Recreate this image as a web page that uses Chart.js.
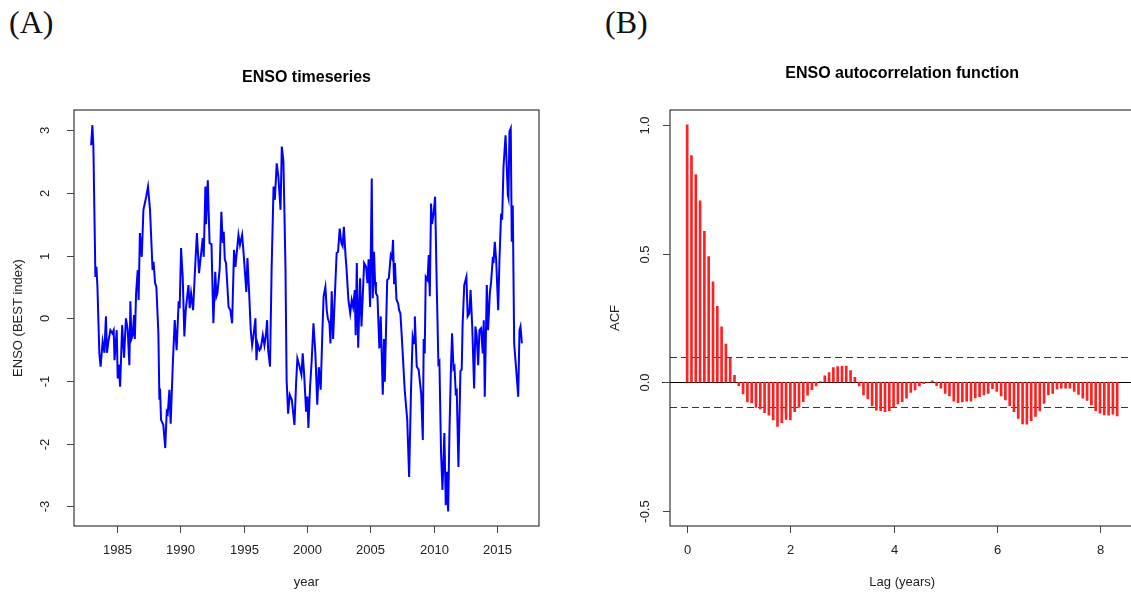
<!DOCTYPE html>
<html>
<head>
<meta charset="utf-8">
<script src="https://cdn.jsdelivr.net/npm/chart.js@4.4.1/dist/chart.umd.min.js"></script>
<style>
  html, body { margin: 0; padding: 0; overflow: hidden; background: #fff; }
  body { width: 1131px; height: 594px; position: relative; }
  .panel { position: absolute; top: 0; }
  .tag { position: absolute; top: 4px; font-family: "Liberation Serif", "DejaVu Serif", serif; font-size: 32px; color: #111; }
</style>
</head>
<body>
<div class="tag" style="left:9px">(A)</div>
<div class="tag" style="left:605px">(B)</div>
<div class="panel" style="left:0"><canvas id="enso" width="565" height="594"></canvas></div>
<div class="panel" style="left:565px"><canvas id="acf" width="575" height="594"></canvas></div>
<script>
// ENSO BEST index (decimal year, value)
const ensoYear = [
  1982.95, 1983.05, 1983.13, 1983.29, 1983.37, 1983.45, 1983.6, 1983.7, 1983.86, 1984.0,
  1984.12, 1984.2, 1984.33, 1984.47, 1984.63, 1984.73, 1984.8, 1984.97, 1985.05, 1985.13,
  1985.24, 1985.4, 1985.55, 1985.7, 1985.84, 1985.97, 1986.05, 1986.13, 1986.23, 1986.34,
  1986.4, 1986.5, 1986.63, 1986.7, 1986.8, 1986.95, 1987.08, 1987.3, 1987.44, 1987.6,
  1987.8, 1987.88, 1988.0, 1988.1, 1988.26, 1988.34, 1988.39, 1988.47, 1988.65, 1988.8,
  1988.92, 1989.0, 1989.13, 1989.23, 1989.4, 1989.55, 1989.7, 1989.86, 1989.94, 1990.05,
  1990.18, 1990.31, 1990.42, 1990.63, 1990.73, 1990.84, 1991.0, 1991.15, 1991.3, 1991.47,
  1991.76, 1991.84, 1991.97, 1992.02, 1992.16, 1992.3, 1992.45, 1992.6, 1992.75, 1992.84,
  1992.92, 1993.1, 1993.23, 1993.34, 1993.42, 1993.5, 1993.6, 1993.8, 1993.94, 1994.08,
  1994.23, 1994.34, 1994.58, 1994.7, 1994.87, 1995.0, 1995.2, 1995.29, 1995.42, 1995.55,
  1995.66, 1995.76, 1995.92, 1996.0, 1996.08, 1996.24, 1996.34, 1996.5, 1996.63, 1996.76,
  1996.84, 1996.92, 1997.07, 1997.2, 1997.35, 1997.45, 1997.6, 1997.73, 1997.9, 1998.0,
  1998.13, 1998.29, 1998.38, 1998.5, 1998.63, 1998.79, 1999.0, 1999.13, 1999.23, 1999.4,
  1999.55, 1999.65, 1999.76, 1999.92, 2000.02, 2000.1, 2000.23, 2000.36, 2000.5, 2000.65,
  2000.8, 2000.92, 2001.07, 2001.2, 2001.3, 2001.44, 2001.55, 2001.63, 2001.76, 2001.84,
  2001.94, 2002.05, 2002.2, 2002.33, 2002.44, 2002.57, 2002.7, 2002.8, 2002.9, 2003.03,
  2003.1, 2003.26, 2003.4, 2003.52, 2003.63, 2003.76, 2003.83, 2003.92, 2004.03, 2004.18,
  2004.29, 2004.5, 2004.65, 2004.76, 2004.85, 2004.97, 2005.1, 2005.18, 2005.28, 2005.36,
  2005.43, 2005.55, 2005.7, 2005.81, 2005.97, 2006.07, 2006.13, 2006.32, 2006.45, 2006.6,
  2006.7, 2006.78, 2006.86, 2006.93, 2007.05, 2007.18, 2007.26, 2007.36, 2007.5, 2007.7,
  2007.9, 2008.05, 2008.2, 2008.33, 2008.44, 2008.5, 2008.65, 2008.8, 2009.0, 2009.13,
  2009.2, 2009.28, 2009.36, 2009.5, 2009.6, 2009.68, 2009.78, 2009.86, 2010.0, 2010.1,
  2010.23, 2010.36, 2010.44, 2010.57, 2010.68, 2010.83, 2010.94, 2011.02, 2011.13, 2011.23,
  2011.36, 2011.44, 2011.55, 2011.63, 2011.73, 2011.81, 2011.94, 2012.1, 2012.2, 2012.27,
  2012.4, 2012.57, 2012.67, 2012.8, 2012.9, 2013.03, 2013.18, 2013.28, 2013.38, 2013.5,
  2013.6, 2013.73, 2013.86, 2013.94, 2014.02, 2014.18, 2014.28, 2014.42, 2014.52, 2014.66,
  2014.71, 2014.81, 2014.92, 2015.08, 2015.18, 2015.31, 2015.39, 2015.5, 2015.66, 2015.84,
  2015.89, 2015.97, 2016.07, 2016.15, 2016.23, 2016.34, 2016.5, 2016.66, 2016.76, 2016.84,
  2016.95
];
const ensoValue = [
  2.76, 3.08, 2.74, 0.66, 0.82, 0.50, -0.56, -0.77, -0.37, -0.55,
  0.03, -0.55, -0.35, -0.19, -0.24, -0.19, -0.67, -0.19, -0.96, -0.74,
  -1.09, -0.11, -0.63, 0.0, -0.19, -0.75, 0.27, -0.33, -0.27, 0.05,
  -0.33, 0.40, 0.77, 0.29, 1.36, 0.98, 1.73, 1.94, 2.10, 1.73,
  0.77, 0.90, 0.56, 0.50, -0.24, -1.30, -1.12, -1.62, -1.70, -2.07,
  -1.49, -1.52, -1.14, -1.68, -0.72, -0.03, -0.51, 0.27, 0.16, 1.12,
  0.66, -0.29, 0.13, 0.53, 0.16, 0.40, 0.13, 0.77, 1.36, 0.72,
  1.28, 0.98, 2.10, 1.50, 2.20, 1.20, 1.18, -0.08, 0.74, 0.35,
  0.40, 0.80, 1.70, 1.20, 1.38, 0.94, 0.88, 0.18, 0.13, -0.08,
  1.09, 0.82, 1.33, 1.17, 1.33, 1.00, 0.42, 0.96, 0.42, -0.19,
  -0.43, -0.29, 0.0, -0.67, -0.40, -0.51, -0.48, -0.27, -0.43, -0.24,
  -0.03, -0.50, -0.77, 0.82, 2.10, 1.89, 2.47, 2.26, 1.73, 2.74,
  2.50, 0.82, -0.98, -1.52, -1.22, -1.30, -1.70, -1.03, -0.64, -0.77,
  -0.90, -0.56, -0.88, -1.49, -1.25, -1.75, -1.10, -0.67, -0.08, -0.56,
  -1.38, -0.78, -1.14, -0.24, 0.35, 0.50, 0.13, 0.0, -0.08, -0.40,
  0.43, -0.33, 0.42, 1.04, 1.06, 1.43, 1.20, 1.15, 1.46, 1.00,
  0.82, 0.29, 0.08, 0.29, 0.18, 0.45, -0.27, 0.88, -0.47, 0.64,
  -0.13, 0.88, 0.82, 0.56, 0.94, 0.18, 2.23, 0.32, 1.06, 0.58,
  0.40, 0.35, -0.48, 0.03, -1.22, -0.33, -1.01, 0.61, 0.64, 1.01,
  0.96, 1.25, 0.56, 0.88, 0.30, 0.24, 0.13, 0.08, -0.40, -1.14,
  -1.62, -2.53, -1.14, -0.29, -0.40, 0.03, -0.77, -0.82, -1.20, -1.94,
  -0.33, -0.56, 0.66, 0.61, 1.01, 0.35, 1.83, 1.50, 1.71, 1.94,
  0.51, -0.72, -0.69, -2.15, -2.74, -1.83, -2.98, -2.45, -3.08, -1.83,
  -0.72, -0.24, -0.80, -0.77, -1.19, -1.16, -2.37, -0.84, -0.82, -0.11,
  0.53, 0.66, 0.03, 0.08, 0.45, -0.13, -1.12, -0.13, -0.27, -0.75,
  -0.19, -0.16, -0.56, -0.03, -1.25, 0.53, -0.19, 0.40, 0.58, 0.98,
  0.88, 1.22, 0.93, 0.13, 0.94, 1.67, 1.57, 2.42, 2.92, 1.97,
  1.92, 2.98, 3.03, 1.22, 1.80, -0.40, -0.82, -1.25, -0.19, -0.13,
  -0.40
];
const yearTicks = [1985, 1990, 1995, 2000, 2005, 2010, 2015];
const ensoTicks = [-3, -2, -1, 0, 1, 2, 3];

// autocorrelation at monthly lags 0..100
const acfValue = [
  1.000, 0.881, 0.807, 0.705, 0.587, 0.488, 0.390, 0.295, 0.215, 0.148,
  0.093, 0.027, -0.013, -0.045, -0.076, -0.080, -0.098, -0.104, -0.118, -0.128,
  -0.146, -0.172, -0.157, -0.144, -0.146, -0.114, -0.098, -0.075, -0.050, -0.029,
  -0.014, 0.003, 0.025, 0.038, 0.057, 0.061, 0.062, 0.063, 0.045, 0.019,
  -0.014, -0.049, -0.065, -0.092, -0.108, -0.110, -0.114, -0.110, -0.097, -0.084,
  -0.075, -0.062, -0.039, -0.030, -0.014, -0.005, 0.000, 0.006, -0.013, -0.023,
  -0.043, -0.053, -0.073, -0.079, -0.076, -0.073, -0.073, -0.061, -0.056, -0.049,
  -0.043, -0.025, -0.036, -0.053, -0.069, -0.092, -0.114, -0.140, -0.162, -0.163,
  -0.149, -0.133, -0.111, -0.082, -0.049, -0.043, -0.027, -0.023, -0.023, -0.023,
  -0.036, -0.047, -0.062, -0.071, -0.088, -0.110, -0.120, -0.127, -0.128, -0.124,
  -0.131
];
const acfBound = 0.0972;
const lagTicks = [0, 2, 4, 6, 8];
const acfTicks = [-0.5, 0.0, 0.5, 1.0];

const FONT = '"Liberation Sans", Arial, Helvetica, sans-serif';

// draws the R-style box, ticks, titles
const rFrame = {
  id: 'rFrame',
  beforeDatasetsDraw(chart, args, o) {
    const { ctx, chartArea: a } = chart;
    const ys = chart.scales.y;
    ctx.save();
    if (o.zeroLine) {
      const p = Math.round(ys.getPixelForValue(0)) + 0.5;
      ctx.strokeStyle = '#000';
      ctx.lineWidth = 1;
      ctx.beginPath(); ctx.moveTo(a.left - 8, p); ctx.lineTo(a.right, p); ctx.stroke();
    }
    if (o.bound) {
      ctx.strokeStyle = '#1f1fff';
      ctx.lineWidth = 1;
      ctx.setLineDash([7, 4]);
      [o.bound, -o.bound].forEach(v => {
        const p = Math.round(ys.getPixelForValue(v)) + 0.5;
        ctx.beginPath(); ctx.moveTo(a.left, p); ctx.lineTo(a.right, p); ctx.stroke();
      });
    }
    ctx.restore();
  },
  afterDraw(chart, args, o) {
    const { ctx, chartArea: a } = chart;
    const xs = chart.scales.x, ys = chart.scales.y;
    ctx.save();
    ctx.strokeStyle = '#111';
    ctx.lineWidth = 1;
    ctx.strokeRect(Math.round(a.left), Math.round(a.top),
      Math.round(a.right - a.left), Math.round(a.bottom - a.top));

    ctx.strokeStyle = '#444';
    ctx.fillStyle = '#222';
    ctx.font = '13px ' + FONT;
    ctx.textAlign = 'center';
    ctx.textBaseline = 'middle';
    o.xTicks.forEach(v => {
      const p = Math.round(xs.getPixelForValue(v)) + 0.5;
      ctx.beginPath(); ctx.moveTo(p, a.bottom); ctx.lineTo(p, a.bottom + 7); ctx.stroke();
      ctx.fillText(o.fmtX(v), p, a.bottom + 24);
    });
    o.yTicks.forEach(v => {
      const p = Math.round(ys.getPixelForValue(v)) + 0.5;
      ctx.beginPath(); ctx.moveTo(a.left - 7, p); ctx.lineTo(a.left, p); ctx.stroke();
      ctx.save();
      ctx.translate(a.left - o.yLabelGap, p);
      ctx.rotate(-Math.PI / 2);
      ctx.fillText(o.fmtY(v), 0, 0);
      ctx.restore();
    });

    const cx = (a.left + a.right) / 2, cy = (a.top + a.bottom) / 2;
    ctx.fillText(o.xTitle, cx, a.bottom + 56);
    ctx.save();
    ctx.translate(a.left - o.yTitleGap, cy);
    ctx.rotate(-Math.PI / 2);
    ctx.fillText(o.yTitle, 0, 0);
    ctx.restore();

    ctx.fillStyle = '#000';
    ctx.font = 'bold 16px ' + FONT;
    ctx.fillText(o.title, cx, o.titleY);
    ctx.restore();
  }
};

const common = {
  responsive: false,
  devicePixelRatio: 1,
  animation: false,
  events: [],
  plugins: { legend: { display: false }, tooltip: { enabled: false } }
};

new Chart(document.getElementById('enso'), {
  type: 'line',
  data: {
    datasets: [{
      data: ensoYear.map((x, i) => ({ x: x, y: ensoValue[i] })),
      borderColor: '#0000ff',
      borderWidth: 2,
      pointRadius: 0,
      tension: 0,
      fill: false
    }]
  },
  options: {
    ...common,
    layout: { padding: { left: 74, top: 110, right: 26, bottom: 68 } },
    scales: {
      x: { type: 'linear', min: 1981.6, max: 2018.3, display: false },
      y: { type: 'linear', min: -3.313, max: 3.322, display: false }
    },
    plugins: {
      ...common.plugins,
      rFrame: {
        title: 'ENSO timeseries', titleY: 78,
        xTitle: 'year', yTitle: 'ENSO (BEST index)',
        xTicks: yearTicks, yTicks: ensoTicks,
        fmtX: v => String(v), fmtY: v => String(v),
        yLabelGap: 29, yTitleGap: 56
      }
    }
  },
  plugins: [rFrame]
});

new Chart(document.getElementById('acf'), {
  type: 'bar',
  data: {
    datasets: [{
      data: acfValue.map((v, i) => ({ x: i / 12, y: v })),
      backgroundColor: '#ff2020',
      borderWidth: 0,
      barThickness: 2,
      grouped: false
    }]
  },
  options: {
    ...common,
    layout: { padding: { left: 105, top: 110, right: 5.6, bottom: 68 } },
    scales: {
      x: { type: 'linear', offset: false, min: -0.333, max: 8.667, display: false },
      y: { type: 'linear', min: -0.5585, max: 1.058, display: false }
    },
    plugins: {
      ...common.plugins,
      rFrame: {
        title: 'ENSO autocorrelation function', titleY: 74,
        xTitle: 'Lag (years)', yTitle: 'ACF',
        xTicks: lagTicks, yTicks: acfTicks,
        fmtX: v => String(v), fmtY: v => v.toFixed(1),
        yLabelGap: 25, yTitleGap: 55,
        zeroLine: true, bound: acfBound
      }
    }
  },
  plugins: [rFrame]
});
</script>
</body>
</html>
